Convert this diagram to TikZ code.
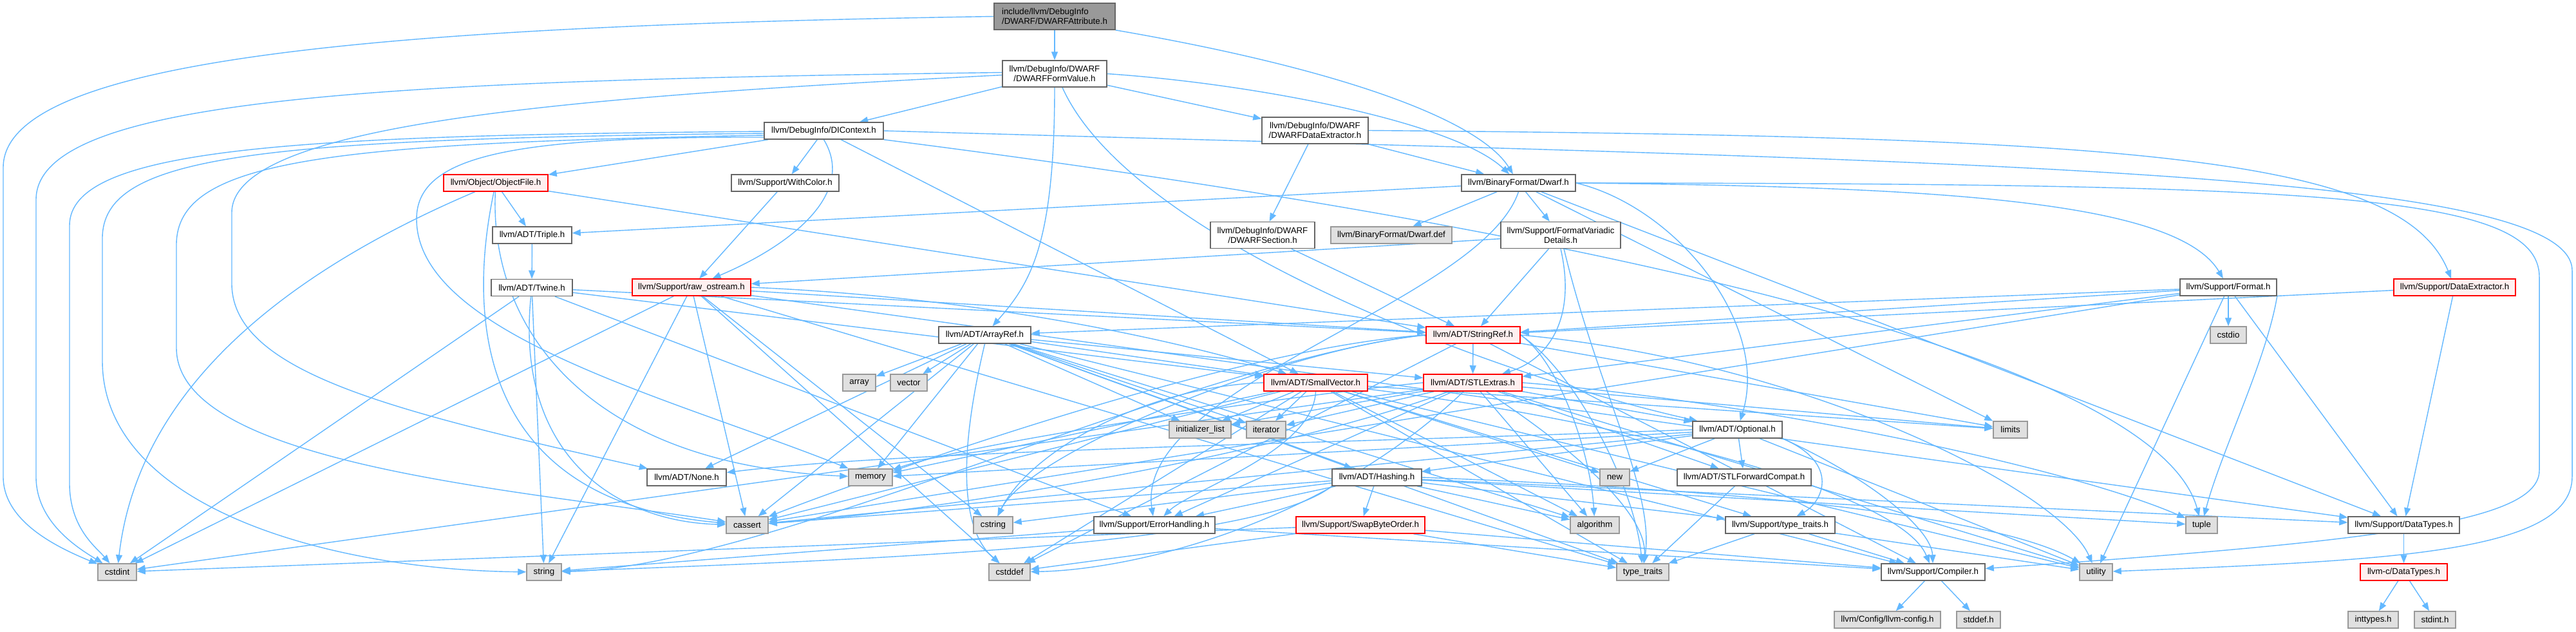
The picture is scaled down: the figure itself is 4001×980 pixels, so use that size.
\documentclass[tikz,border=0pt]{standalone}
\usepackage{fontspec}
\setmainfont{Liberation Sans}
\usetikzlibrary{arrows.meta,backgrounds}
\definecolor{edgec}{HTML}{63B8FF}
\definecolor{bordc}{HTML}{666666}
\definecolor{leafbord}{HTML}{999999}
\definecolor{leaffill}{HTML}{E0E0E0}
\definecolor{redfill}{HTML}{FFF0F0}
\definecolor{redbord}{HTML}{FF0000}
\definecolor{rootfill}{HTML}{999999}
\begin{document}
\begin{tikzpicture}[x=1pt,y=-1pt,
  nd/.style={draw, line width=1.5pt, inner sep=0pt, minimum height=26pt, font=\fontsize{13.3}{15}\selectfont, align=center, text=black},
  hdr/.style={nd, draw=bordc, fill=white},
  leaf/.style={nd, draw=leafbord, fill=leaffill},
  trunc/.style={nd, draw=redbord, fill=redfill},
  rootn/.style={nd, draw=bordc, fill=rootfill},
  two/.style={minimum height=41pt},
  e/.style={draw=edgec, line width=1.4pt, -{Triangle[length=13pt,width=10pt]}},
]
\useasboundingbox (0,0) rectangle (4001,980);
% nodes
\node[rootn,two,minimum width=188pt,align=left] (root) at (1638,25.5) {include/llvm/DebugInfo\\/DWARF/DWARFAttribute.h};
\node[hdr,two,minimum width=162pt] (fv) at (1638,114.5) {llvm/DebugInfo/DWARF\\/DWARFFormValue.h};
\node[hdr,minimum width=185pt] (dic) at (1279.5,203) {llvm/DebugInfo/DIContext.h};
\node[hdr,two,minimum width=165pt] (dde) at (2042.5,202.5) {llvm/DebugInfo/DWARF\\/DWARFDataExtractor.h};
\node[trunc,minimum width=162pt] (obj) at (770,284) {llvm/Object/ObjectFile.h};
\node[hdr,minimum width=167pt] (wc) at (1219.5,284) {llvm/Support/WithColor.h};
\node[hdr,minimum width=177pt] (dwarf) at (2358.5,284) {llvm/BinaryFormat/Dwarf.h};
\node[hdr,minimum width=123pt] (triple) at (826.5,365) {llvm/ADT/Triple.h};
\node[hdr,two,minimum width=162pt] (dsec) at (1961,365) {llvm/DebugInfo/DWARF\\/DWARFSection.h};
\node[leaf,minimum width=188pt] (ddef) at (2161,365) {llvm/BinaryFormat/Dwarf.def};
\node[hdr,two,minimum width=186pt] (fvd) at (2424,365) {llvm/Support/FormatVariadic\\Details.h};
\node[hdr,minimum width=126pt] (twine) at (826,446.5) {llvm/ADT/Twine.h};
\node[trunc,minimum width=184pt] (ros) at (1074,446) {llvm/Support/raw\_ostream.h};
\node[hdr,minimum width=150pt] (fmt) at (3461,446) {llvm/Support/Format.h};
\node[trunc,minimum width=189pt] (dext) at (3812.5,446) {llvm/Support/DataExtractor.h};
\node[hdr,minimum width=143pt] (aref) at (1529.5,520) {llvm/ADT/ArrayRef.h};
\node[trunc,minimum width=146pt] (sref) at (2288,520) {llvm/ADT/StringRef.h};
\node[leaf,minimum width=56pt] (cstdio) at (3461,520) {cstdio};
\node[leaf,minimum width=51pt] (array) at (1334.5,594) {array};
\node[leaf,minimum width=57pt] (vector) at (1411.5,594) {vector};
\node[trunc,minimum width=161pt] (svec) at (2043.5,594) {llvm/ADT/SmallVector.h};
\node[trunc,minimum width=153pt] (stlx) at (2287.5,594) {llvm/ADT/STLExtras.h};
\node[leaf,minimum width=96pt] (initl) at (1864,667) {initializer\_list};
\node[leaf,minimum width=61pt] (iter) at (1966.5,667) {iterator};
\node[hdr,minimum width=139pt] (opt) at (2698.5,667) {llvm/ADT/Optional.h};
\node[leaf,minimum width=53pt] (limits) at (3122.5,667) {limits};
\node[hdr,minimum width=123pt] (none) at (1066.5,741) {llvm/ADT/None.h};
\node[leaf,minimum width=68pt] (memory) at (1352,741) {memory};
\node[hdr,minimum width=139pt] (hash) at (2138.5,741) {llvm/ADT/Hashing.h};
\node[leaf,minimum width=46pt] (new) at (2508,741) {new};
\node[hdr,minimum width=208pt] (stlfc) at (2709,741) {llvm/ADT/STLForwardCompat.h};
\node[leaf,minimum width=65pt] (cassert) at (1160.5,815) {cassert};
\node[leaf,minimum width=61pt] (cstring) at (1542.5,815) {cstring};
\node[hdr,minimum width=188pt] (errh) at (1793,815) {llvm/Support/ErrorHandling.h};
\node[trunc,minimum width=200pt] (swap) at (2113,815) {llvm/Support/SwapByteOrder.h};
\node[leaf,minimum width=76pt] (algorithm) at (2477,815) {algorithm};
\node[hdr,minimum width=170pt] (stt) at (2765,815) {llvm/Support/type\_traits.h};
\node[leaf,minimum width=49pt] (tuple) at (3419.5,815) {tuple};
\node[hdr,minimum width=173pt] (sdt) at (3733.5,815) {llvm/Support/DataTypes.h};
\node[leaf,minimum width=60pt] (cstdint) at (182,888) {cstdint};
\node[leaf,minimum width=54pt] (string) at (845,888) {string};
\node[leaf,minimum width=64pt] (cstddef) at (1568,888) {cstddef};
\node[leaf,minimum width=81pt] (typetraits) at (2551.5,888) {type\_traits};
\node[hdr,minimum width=161pt] (comp) at (3002.5,888) {llvm/Support/Compiler.h};
\node[leaf,minimum width=51pt] (utility) at (3255.5,888) {utility};
\node[trunc,minimum width=135pt] (cdt) at (3733.5,888) {llvm-c/DataTypes.h};
\node[leaf,minimum width=165pt] (llvmconfig) at (2931.5,962) {llvm/Config/llvm-config.h};
\node[leaf,minimum width=68pt] (stddefh) at (3073,962) {stddef.h};
\node[leaf,minimum width=78pt] (inttypes) at (3686,962) {inttypes.h};
\node[leaf,minimum width=64pt] (stdinth) at (3782,962) {stdint.h};

\begin{scope}[on background layer]
\fill[white] (0,0) rectangle (4001,980);
% root
\draw[e] (root) -- (fv);
\draw[e] (root.south east) .. controls (2100,110) and (2300,190) .. (dwarf);
\draw[e] (root.west) .. controls (600,40) and (5,90) .. (5,260) -- (5,740) .. controls (5,810) and (90,850) .. (cstdint);
% fv
\draw[e] (fv) -- (dic);
\draw[e] (fv) -- (dde);
\draw[e] (fv.east) .. controls (1950,130) and (2260,190) .. (dwarf);
\draw[e] (fv.south) .. controls (1638,380) and (1600,440) .. (aref);
\draw[e] ([xshift=12pt]fv.south) .. controls (1760,380) and (2350,590) .. (opt);
\draw[e] ([yshift=-2pt]fv.west) .. controls (900,150) and (360,190) .. (360,330) -- (360,440) .. controls (360,580) and (620,640) .. (none);
\draw[e] ([yshift=2pt]fv.west) .. controls (600,125) and (56,150) .. (56,310) -- (56,740) .. controls (56,810) and (120,850) .. (cstdint);
% dde
\draw[e] (dde) -- (dwarf);
\draw[e] (dde) -- (dsec);
\draw[e] (dde.east) .. controls (3300,212) and (3730,240) .. (dext);
% dic
\draw[e] (dic) -- (obj);
\draw[e] (dic) -- (wc);
\draw[e] (dic.south) .. controls (1330,300) and (1230,380) .. (ros);
\draw[e] (dic) -- (svec);
\draw[e] ([yshift=-1pt]dic.west) .. controls (450,210) and (108,230) .. (108,350) -- (108,750) .. controls (108,820) and (150,850) .. (cstdint);
\draw[e] ([yshift=-4pt]dic.west) .. controls (400,216) and (159,240) .. (159,370) -- (159,560) .. controls (159,790) and (520,885) .. (string);
\draw[e] ([yshift=-7pt]dic.west) .. controls (500,222) and (274,250) .. (274,380) -- (274,540) .. controls (274,720) and (800,760) .. (cassert);
\draw[e] ([yshift=-10pt]dic.west) .. controls (800,212) and (647,240) .. (647,340) .. controls (647,520) and (1050,620) .. (memory);
\draw[e] (dic.south east) .. controls (2500,360) and (3350,560) .. (tuple);
\draw[e] (dic.east) .. controls (3000,250) and (3995,260) .. (3995,420) -- (3995,740) .. controls (3995,860) and (3700,870) .. (utility);
% obj
\draw[e] (obj) -- (triple);
\draw[e] (obj) -- (sref);
\draw[e] (obj) .. controls (720,520) and (760,780) .. (cassert);
\draw[e] (obj) .. controls (760,500) and (900,720) .. (memory);
\draw[e] (obj) .. controls (450,420) and (215,600) .. (cstdint);
% wc
\draw[e] (wc) -- (ros);
% dwarf
\draw[e] (dwarf) -- (triple);
\draw[e] (dwarf) -- (ddef);
\draw[e] (dwarf) -- (fvd);
\draw[e] (dwarf.east) .. controls (3000,290) and (3380,310) .. (fmt);
\draw[e] (dwarf.east) .. controls (2600,320) and (2750,500) .. (opt);
\draw[e] (dwarf.east) .. controls (3600,285) and (3944,300) .. (3944,430) -- (3944,730) .. controls (3944,810) and (3700,840) .. (comp);
\draw[e] (dwarf) -- (sdt);
\draw[e] (dwarf.south) .. controls (2300,470) and (1760,600) .. (errh);
\draw[e] (dwarf) -- (limits);
% triple, dsec
\draw[e] (triple) -- (twine);
\draw[e] (dsec) -- (sref);
% fvd
\draw[e] (fvd) -- (sref);
\draw[e] (fvd) -- (ros);
\draw[e] (fvd.south) .. controls (2450,500) and (2400,560) .. (stlx);
\draw[e] (fvd) .. controls (2480,600) and (2570,760) .. (typetraits);
% twine
\draw[e] (twine) -- (svec);
\draw[e] (twine) -- (sref);
\draw[e] (twine) -- (errh);
\draw[e] (twine) .. controls (800,700) and (950,810) .. (cassert);
\draw[e] (twine) -- (cstdint);
\draw[e] (twine) -- (string);
% ros
\draw[e] (ros.east) .. controls (1500,460) and (1800,520) .. (svec);
\draw[e] (ros) -- (sref);
\draw[e] (ros) -- (sdt);
\draw[e] (ros) -- (cassert);
\draw[e] (ros) -- (cstddef);
\draw[e] (ros) -- (cstdint);
\draw[e] (ros) -- (cstring);
\draw[e] (ros) -- (string);
\draw[e] (ros) -- (typetraits);
% fmt
\draw[e] (fmt) -- (aref);
\draw[e] (fmt) -- (stlx);
\draw[e] (fmt) -- (sref);
\draw[e] (fmt) -- (sdt);
\draw[e] (fmt) -- (cassert);
\draw[e] (fmt) -- (cstdio);
\draw[e] (fmt.south east) .. controls (3520,560) and (3450,700) .. (tuple);
\draw[e] (fmt) -- (utility);
% dext
\draw[e] (dext) -- (sref);
\draw[e] (dext) -- (sdt);
% aref
\draw[e] (aref) -- (hash);
\draw[e] (aref) -- (none);
\draw[e] (aref) -- (svec);
\draw[e] (aref) -- (stlx);
\draw[e] (aref) -- (comp);
\draw[e] (aref) -- (algorithm);
\draw[e] (aref) -- (array);
\draw[e] (aref) -- (cassert);
\draw[e] (aref.south) .. controls (1490,700) and (1490,820) .. (cstddef);
\draw[e] (aref) -- (initl);
\draw[e] (aref) -- (iter);
\draw[e] (aref) -- (memory);
\draw[e] (aref) -- (typetraits);
\draw[e] (aref) -- (vector);
% sref
\draw[e] (sref) -- (stlx);
\draw[e] (sref) -- (comp);
\draw[e] (sref.east) .. controls (2420,560) and (2470,700) .. (algorithm);
\draw[e] (sref.west) .. controls (1900,540) and (1300,760) .. (cassert);
\draw[e] (sref) -- (cstddef);
\draw[e] (sref.west) .. controls (2000,540) and (1600,700) .. (cstring);
\draw[e] (sref) -- (limits);
\draw[e] (sref.west) .. controls (1850,560) and (1200,880) .. (string);
\draw[e] (sref.east) .. controls (2450,580) and (2540,760) .. (typetraits);
\draw[e] (sref.east) .. controls (2800,560) and (3200,760) .. (utility);
% svec
\draw[e] (svec) .. controls (2500,650) and (2950,760) .. (comp);
\draw[e] (svec.south) .. controls (2040,700) and (1850,760) .. (errh);
\draw[e] (svec) -- (stt);
\draw[e] (svec) -- (algorithm);
\draw[e] (svec) -- (cassert);
\draw[e] (svec) -- (cstddef);
\draw[e] (svec.west) .. controls (1780,600) and (1600,700) .. (cstring);
\draw[e] (svec) -- (initl);
\draw[e] (svec) -- (iter);
\draw[e] (svec) -- (limits);
\draw[e] (svec) -- (memory);
\draw[e] (svec) -- (new);
\draw[e] (svec) -- (typetraits);
\draw[e] (svec) -- (utility);
% stlx
\draw[e] (stlx) -- (opt);
\draw[e] (stlx) -- (stlfc);
\draw[e] (stlx) -- (errh);
\draw[e] (stlx) -- (algorithm);
\draw[e] (stlx) .. controls (2000,700) and (1500,790) .. (cassert);
\draw[e] (stlx) .. controls (2050,820) and (1750,885) .. (cstddef);
\draw[e] (stlx) -- (cstdint);
\draw[e] (stlx) -- (initl);
\draw[e] (stlx) -- (iter);
\draw[e] (stlx) -- (limits);
\draw[e] (stlx.west) .. controls (1950,620) and (1500,690) .. (memory);
\draw[e] (stlx.east) .. controls (2700,620) and (3200,720) .. (tuple);
\draw[e] (stlx) .. controls (2450,700) and (2560,800) .. (typetraits);
\draw[e] (stlx) -- (utility);
% opt
\draw[e] (opt) -- (hash);
\draw[e] (opt.west) .. controls (2000,690) and (1400,700) .. (none);
\draw[e] (opt) -- (stlfc);
\draw[e] (opt.south east) .. controls (2900,740) and (3000,820) .. (comp);
\draw[e] (opt.south east) .. controls (2860,720) and (2830,780) .. (stt);
\draw[e] (opt) -- (cassert);
\draw[e] (opt) -- (memory);
\draw[e] (opt) -- (new);
\draw[e] (opt) -- (utility);
% hash
\draw[e] (hash) -- (sdt);
\draw[e] (hash) -- (errh);
\draw[e] (hash) -- (swap);
\draw[e] (hash) -- (stt);
\draw[e] (hash) -- (algorithm);
\draw[e] (hash) -- (cassert);
\draw[e] (hash) -- (cstring);
\draw[e] (hash.south west) .. controls (1950,850) and (1300,870) .. (string);
\draw[e] (hash) -- (tuple);
\draw[e] (hash.east) .. controls (2700,760) and (3100,800) .. (utility);
% others
\draw[e] (stlfc) -- (typetraits);
\draw[e] (errh) -- (comp);
\draw[e] (errh) -- (string);
\draw[e] (swap) -- (comp);
\draw[e] (swap) -- (cstddef);
\draw[e] (swap) -- (cstdint);
\draw[e] (swap) -- (typetraits);
\draw[e] (stt) -- (comp);
\draw[e] (stt) -- (typetraits);
\draw[e] (stt) -- (utility);
\draw[e] (sdt) -- (cdt);
\draw[e] (cdt) -- (inttypes);
\draw[e] (cdt) -- (stdinth);
\draw[e] (comp) -- (llvmconfig);
\draw[e] (comp) -- (stddefh);
\end{scope}
\end{tikzpicture}
\end{document}
